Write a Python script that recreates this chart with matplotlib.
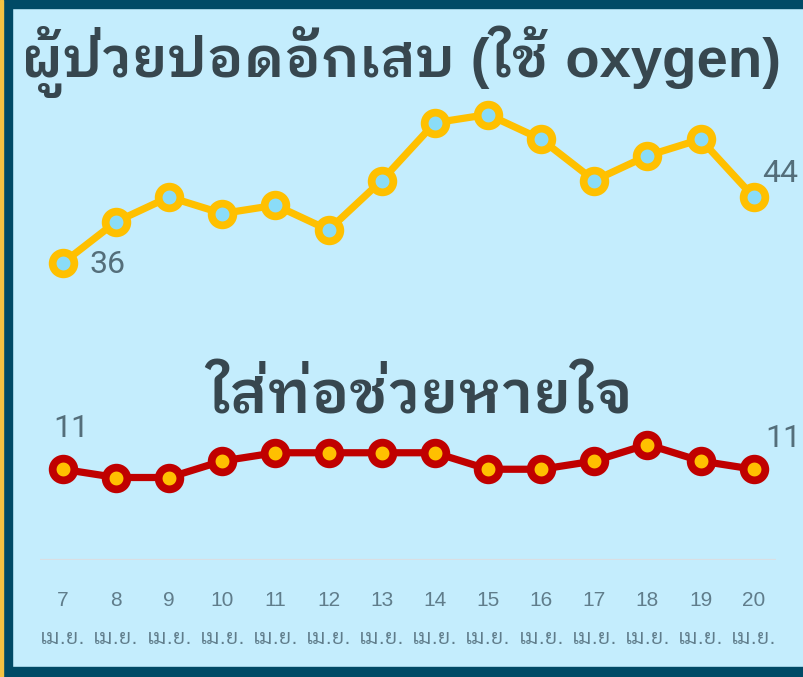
import matplotlib
matplotlib.use("Agg")
import matplotlib.pyplot as plt
from matplotlib import font_manager
from matplotlib.patches import Rectangle

# data (daily counts, 7-20 April)
days = [7, 8, 9, 10, 11, 12, 13, 14, 15, 16, 17, 18, 19, 20]
oxygen = [36, 41, 44, 42, 43, 40, 46, 53, 54, 51, 46, 49, 51, 44]
ventilator = [11, 10, 10, 12, 13, 13, 13, 13, 11, 11, 12, 14, 12, 11]
month_label = "เม.ย."
title_top = "ผู้ป่วยปอดอักเสบ (ใช้ oxygen)"
title_mid = "ใส่ท่อช่วยหายใจ"

BG = "#c4edfd"
DARK = "#37474f"
GREY = "#607d8b"


def pick_thai(cands):
    # first Thai family that has a real bold face installed
    faces = {}
    for f in font_manager.fontManager.ttflist:
        faces.setdefault(f.name, set()).add(int(f.weight) if str(f.weight).isdigit() else 400)
    for c in cands:
        if c in faces and max(faces[c]) >= 600:
            return c, faces
    return cands[0], faces


THAI, faces = pick_thai(["Noto Sans Thai Looped", "IBM Plex Sans Thai Looped", "Sarabun", "Noto Sans Thai"])
FONTS = ["Liberation Sans", THAI, "DejaVu Sans"]
plt.rcParams["font.family"] = FONTS
LABEL_FONT = "Roboto" if "Roboto" in faces else "Liberation Sans"

W, H = 804, 677
fig = plt.figure(figsize=(W / 100, H / 100), dpi=100, facecolor=BG)

# frame: dark border top/left/bottom, thin yellow strip at far left
fig.patches.append(Rectangle((0, 0), 1, 1, transform=fig.transFigure, color=BG, zorder=-3))
fig.patches.append(Rectangle((0, 1 - 8 / H), 1, 8 / H, transform=fig.transFigure, color="#004a66", zorder=-2))
fig.patches.append(Rectangle((0, 0), 1, 10 / H, transform=fig.transFigure, color="#004a66", zorder=-2))
fig.patches.append(Rectangle((0, 0), 12 / W, 1, transform=fig.transFigure, color="#004a66", zorder=-2))
fig.patches.append(Rectangle((0, 0), 3 / W, 1, transform=fig.transFigure, color="#f5c242", zorder=-1))

# axes: x 40..776 px, y 100..560 px
ax = fig.add_axes([40 / W, 1 - 560 / H, 736 / W, 460 / H])
ax.set_facecolor("none")
ax.set_xlim(6.57, 20.42)
ax.set_ylim(0, 460 / 8.25)
for s in ax.spines.values():
    s.set_visible(False)
ax.axhline(0, color="#d9dfe3", lw=1.6, zorder=1)

mk = dict(marker="o", markersize=15.6, markeredgewidth=5.6, lw=5.2, zorder=3)
ax.plot(days, oxygen, color="#ffc000", markerfacecolor="#8adcf8", markeredgecolor="#ffc000", **mk)
ax.plot(days, ventilator, color="#c00000", markerfacecolor="#ffc000", markeredgecolor="#c00000", **mk)

ax.set_yticks([])
ax.set_xticks(days)
ax.set_xticklabels([f"{d}\n\n{month_label}" for d in days], color=GREY, fontsize=15, linespacing=1.0)
ax.tick_params(axis="x", length=0, pad=22)

# end labels
lab = dict(color="#546e7a", fontsize=23, fontweight="normal", family=[LABEL_FONT, "DejaVu Sans"])
ax.annotate(str(oxygen[0]), (days[0], oxygen[0]), xytext=(19, -1), textcoords="offset points",
            ha="left", va="center", **lab)
ax.annotate(str(oxygen[-1]), (days[-1], oxygen[-1]), xytext=(6, 17), textcoords="offset points",
            ha="left", va="center", **lab)
ax.annotate(str(ventilator[0]), (days[0], ventilator[0]), xytext=(6, 29), textcoords="offset points",
            ha="center", va="center", **lab)
ax.annotate(str(ventilator[-1]), (days[-1], ventilator[-1]), xytext=(21, 22), textcoords="offset points",
            ha="center", va="center", **lab)

fig.text(401 / W, 1 - 77 / H, title_top, ha="center", va="baseline", fontsize=40.5,
         fontweight=600, color=DARK)
fig.text(420 / W, 1 - 413 / H, title_mid, ha="center", va="baseline", fontsize=43,
         fontweight=600, color=DARK)

fig.savefig("out.png", facecolor=BG)
